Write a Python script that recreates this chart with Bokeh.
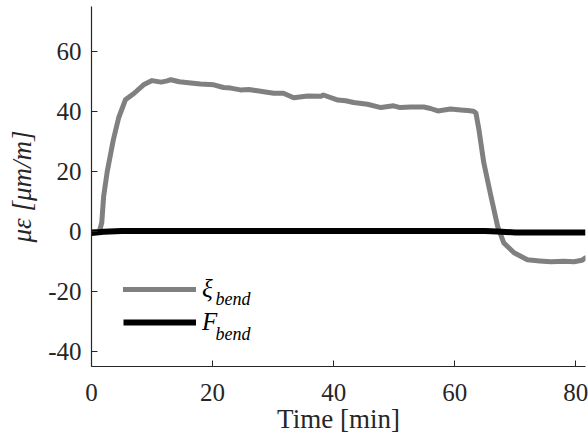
from bokeh.plotting import figure
from bokeh.models import Range1d, FixedTicker, Legend, LegendItem, Label
from bokeh.embed import file_html
from bokeh.resources import INLINE

# ---- data ----
t_xi = [0, 1.3, 1.7, 2.0, 2.6, 3.6, 4.5, 5.6, 7.0, 8.6, 10.0, 11.5, 12.5, 13.1, 14.5,
        16.4, 18.0, 20.2, 21.8, 23.0, 24.6, 26.0, 27.4, 29.0, 30.1, 31.7, 33.4, 35.7,
        37.9, 38.3, 40.7, 42.0, 43.3, 45.6, 47.8, 49.9, 51.0, 52.7, 54.9, 56.0, 57.2,
        59.3, 61.0, 62.1, 63.1, 63.5, 64.0, 64.8, 66.0, 67.1, 68.1, 69.8, 72.0, 74.0,
        75.9, 78.0, 79.7, 81.0, 81.6]
xi_bend = [0, 0, 3, 11.6, 20, 30.5, 38, 43.9, 46, 48.9, 50.3, 49.8, 50.2, 50.6, 49.9,
           49.5, 49.2, 48.9, 48.0, 47.8, 47.2, 47.3, 46.9, 46.4, 46.1, 46.1, 44.6, 45.2,
           45.1, 45.5, 43.8, 43.6, 43.0, 42.4, 41.3, 41.9, 41.3, 41.5, 41.5, 41.0, 40.2,
           40.8, 40.5, 40.3, 40.1, 39.5, 33.9, 22.9, 11.6, 1.6, -3.8, -7.1, -9.4, -9.8,
           -10.1, -9.9, -10.1, -9.6, -8.8]

t_f = [0, 2, 5, 10, 20, 30, 40, 50, 60, 65, 67, 70, 75, 81.6]
f_bend = [-0.5, -0.1, 0.2, 0.2, 0.2, 0.2, 0.2, 0.2, 0.2, 0.2, 0.0, -0.3, -0.3, -0.3]

x_ticks = [0, 20, 40, 60, 80]
y_ticks = [-40, -20, 0, 20, 40, 60]
x_label = "Time [min]"
y_label = "\u03bc\u03b5 [\u03bcm/m]"
legend_names = ["\u03be", "F"]
legend_subs = ["bend", "bend"]

FONT = "Liberation Serif"
AX = "#262626"

p = figure(width=588, height=436, output_backend="svg", toolbar_location=None,
           x_range=Range1d(0, 81.6), y_range=Range1d(-45, 75),
           min_border_left=91, min_border_right=3, min_border_top=6, min_border_bottom=69)
p.outline_line_color = None
p.grid.visible = False
p.background_fill_color = "white"
p.border_fill_color = "white"

r_xi = p.line(t_xi, xi_bend, line_color="#808080", line_width=5, line_join="round", line_cap="round")
r_f = p.line(t_f, f_bend, line_color="black", line_width=6, line_join="round")

for ax in (p.xaxis[0], p.yaxis[0]):
    ax.axis_line_color = AX
    ax.axis_line_width = 1.2
    ax.major_tick_line_color = AX
    ax.major_tick_in = 6
    ax.major_tick_out = 0
    ax.minor_tick_line_color = None
    ax.major_label_text_font = FONT
    ax.major_label_text_font_size = "25px"
    ax.major_label_text_color = AX
    ax.axis_label_text_font = FONT
    ax.axis_label_text_font_size = "27px"
    ax.axis_label_text_color = AX

p.xaxis.ticker = FixedTicker(ticks=x_ticks)
p.yaxis.ticker = FixedTicker(ticks=y_ticks)
p.xaxis.major_label_overrides = {v: str(v) for v in x_ticks}
p.yaxis.major_label_overrides = {v: str(v) for v in y_ticks}
p.xaxis.major_label_standoff = 17
p.yaxis.major_label_standoff = 10
p.xaxis.axis_label = x_label
p.xaxis.axis_label_text_font_style = "normal"
p.xaxis.axis_label_standoff = 0
p.yaxis.axis_label = y_label
p.yaxis.axis_label_text_font_style = "italic"
p.yaxis.axis_label_standoff = 8

legend = Legend(items=[LegendItem(label=legend_names[0], renderers=[r_xi]),
                       LegendItem(label=legend_names[1], renderers=[r_f])],
                location=(32, 30), margin=0, padding=0, border_line_color=None,
                background_fill_alpha=0, glyph_width=73, glyph_height=20,
                label_height=20, spacing=5, label_standoff=6,
                label_text_font=FONT, label_text_font_size="25px",
                label_text_font_style="italic", label_text_color="black")
p.add_layout(legend)

sub_y = [68, 33]
for name_sub, yy in zip(legend_subs, sub_y):
    p.add_layout(Label(x=124, y=yy, x_units="screen", y_units="screen", text=name_sub,
                       text_font=FONT, text_font_size="18px", text_font_style="italic",
                       text_baseline="alphabetic", text_color="black"))

open("out.html", "w").write(file_html(p, INLINE))
